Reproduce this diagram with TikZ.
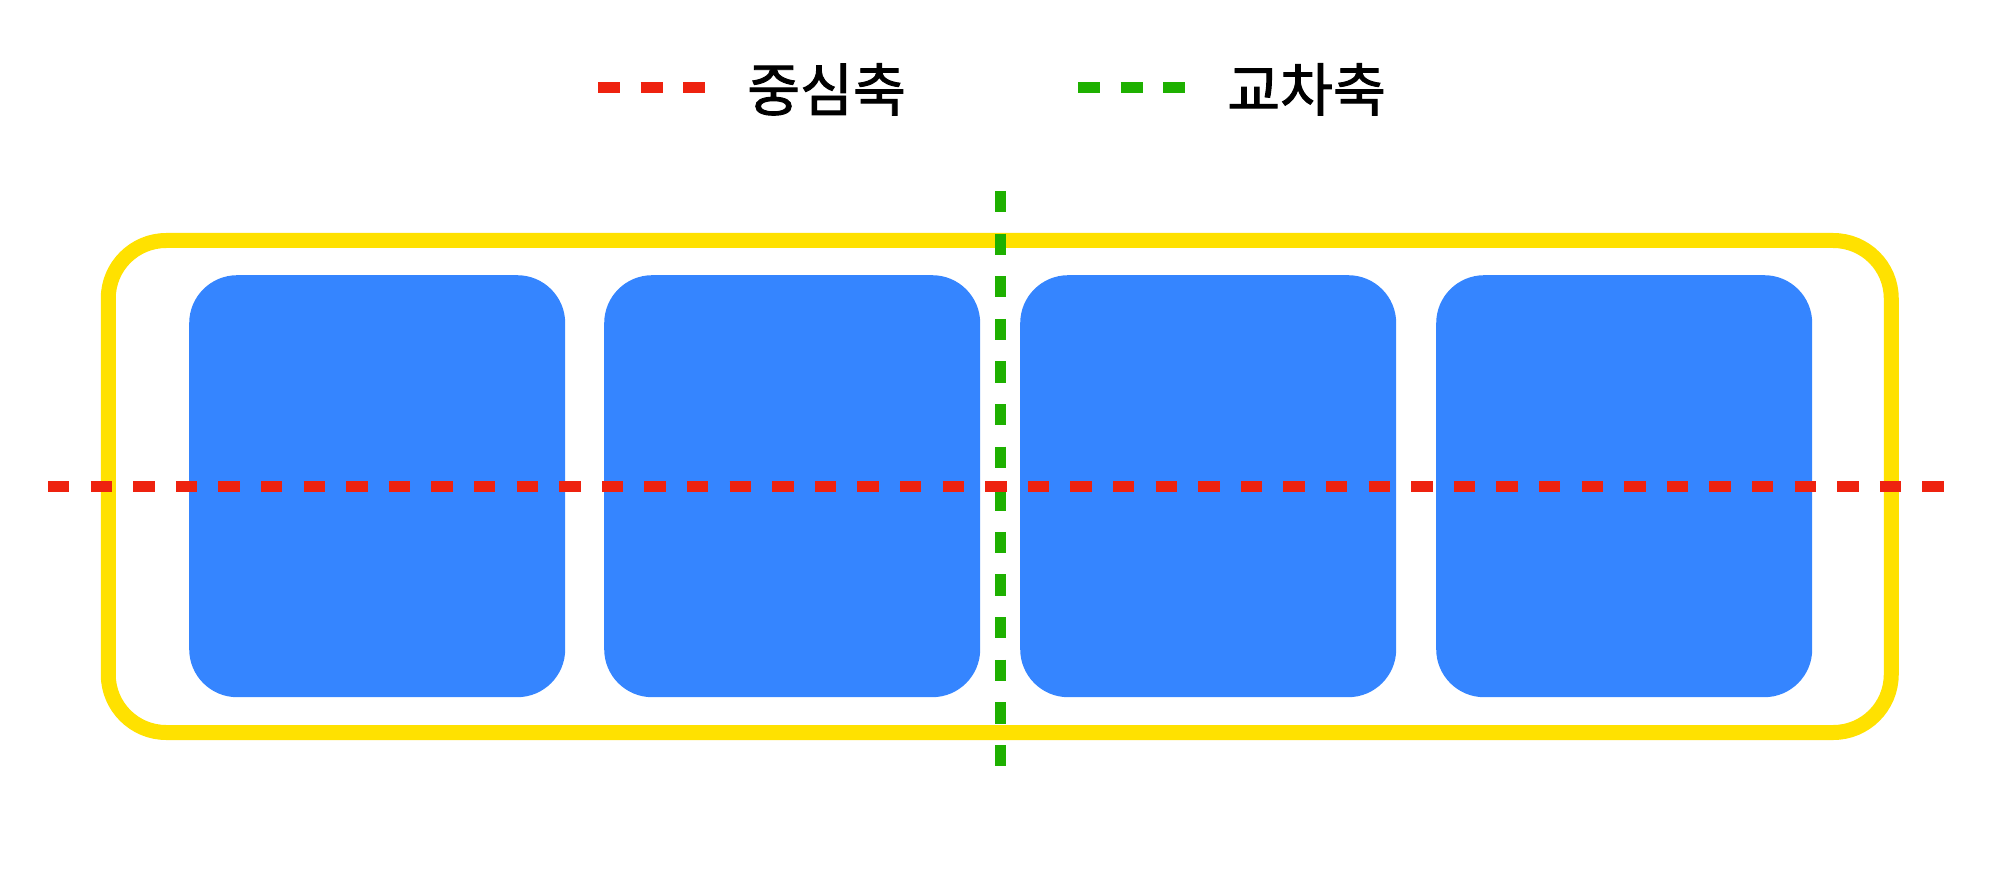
\documentclass[tikz,border=0pt]{standalone}
\usepackage{fontspec}
\newfontfamily\krfont[FakeBold=1.6]{Noto Sans CJK KR}
\definecolor{boxblue}{HTML}{3585FF}
\definecolor{frameyellow}{HTML}{FFE100}
\definecolor{axisred}{HTML}{EE220F}
\definecolor{axisgreen}{HTML}{1EB000}
\begin{document}
\begin{tikzpicture}[x=1pt,y=-1pt,
  block/.style={fill=boxblue,draw=none,rounded corners=48pt,minimum width=376pt,minimum height=422pt,inner sep=0pt,anchor=north west},
  frame/.style={draw=frameyellow,line width=15pt,rounded corners=58pt,inner sep=0pt,minimum width=1783pt,minimum height=492pt},
  centeraxis/.style={draw=axisred,line width=11pt,dash pattern=on 21.3pt off 21.3pt},
  crossaxis/.style={draw=axisgreen,line width=11pt,dash pattern=on 21.3pt off 21.3pt},
  legred/.style={draw=axisred,line width=11pt,dash pattern=on 22pt off 20.5pt},
  leggreen/.style={draw=axisgreen,line width=11pt,dash pattern=on 22pt off 20.5pt},
  legtext/.style={font=\krfont\fontsize{57.5}{60}\selectfont,anchor=base west,inner sep=0pt,text=black}]
\useasboundingbox (0,0) rectangle (2000,877);
% frame
\node[frame] (frame) at (999.75,486.5) {};
% blocks
\node[block] (b1) at (189,275) {};
\node[block] (b2) at (604,275) {};
\node[block] (b3) at (1020,275) {};
\node[block] (b4) at (1436,275) {};
% axes
\coordinate (gtop) at (1000.5,191);
\coordinate (gbot) at (1000.5,766);
\coordinate (rl) at (48,486.5);
\coordinate (rr) at (1944,486.5);
\draw[crossaxis] (gtop) -- (gbot);
\draw[centeraxis] (rl) -- (rr);
% legend
\coordinate (l1a) at (598,87.5);
\coordinate (l1b) at (705,87.5);
\coordinate (l2a) at (1078,87.5);
\coordinate (l2b) at (1185,87.5);
\draw[legred] (l1a) -- (l1b);
\draw[leggreen] (l2a) -- (l2b);
\node[legtext] (t1) at (747,111) {중심축};
\node[legtext] (t2) at (1227,111) {교차축};
\end{tikzpicture}
\end{document}
